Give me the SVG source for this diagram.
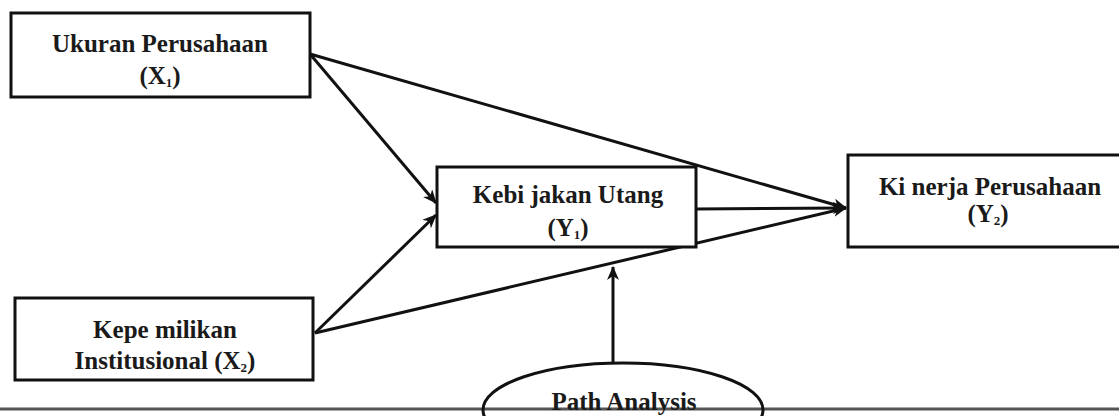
<svg xmlns="http://www.w3.org/2000/svg" width="1119" height="416" viewBox="0 0 1119 416">
<defs>
<style>
.box{fill:#fff;stroke:#111;stroke-width:3}
.t{font-family:"Liberation Serif","Times New Roman",serif;font-weight:bold;font-size:25px;fill:#1a1a1a;text-anchor:middle}
.sub{font-size:13px}
.c{stroke:#111;stroke-width:3;fill:none}
</style>
<marker id="ah" viewBox="0 0 14 12" refX="13" refY="6" markerWidth="14" markerHeight="12" markerUnits="userSpaceOnUse" orient="auto">
<path d="M0,0 L14,6 L0,12 L4,6 Z" fill="#111"/>
</marker>
</defs>
<rect width="1119" height="416" fill="#fff"/>
<line x1="0" y1="409" x2="1119" y2="409" stroke="#555" stroke-width="3"/>
<g id="connectors">
<line class="c" x1="310" y1="54" x2="436" y2="203" marker-end="url(#ah)"/>
<line class="c" x1="310" y1="54" x2="846" y2="208" marker-end="url(#ah)"/>
<line class="c" x1="315" y1="333" x2="436" y2="215" marker-end="url(#ah)"/>
<line class="c" x1="315" y1="333" x2="846" y2="208" marker-end="url(#ah)"/>
<line class="c" x1="696" y1="209" x2="846" y2="208" marker-end="url(#ah)"/>
<line class="c" x1="613" y1="363" x2="613" y2="267" marker-end="url(#ah)"/>
</g>
<g id="ukuran">
<rect class="box" x="11" y="13" width="299" height="84"/>
<text class="t" x="160" y="52">Ukuran Perusahaan</text>
<text class="t" x="160" y="84">(X<tspan class="sub" dy="3">1</tspan><tspan dy="-3">)</tspan></text>
</g>
<g id="kepemilikan">
<rect class="box" x="15" y="298" width="298" height="82"/>
<text class="t" x="165" y="338">Kepe milikan</text>
<text class="t" x="165" y="369">Institusional (X<tspan class="sub" dy="3">2</tspan><tspan dy="-3">)</tspan></text>
</g>
<g id="kebijakan">
<rect class="box" x="437" y="167" width="259" height="80"/>
<text class="t" x="568" y="203">Kebi jakan Utang</text>
<text class="t" x="568" y="236">(Y<tspan class="sub" dy="3">1</tspan><tspan dy="-3">)</tspan></text>
</g>
<g id="kinerja">
<rect class="box" x="848" y="155" width="290" height="92"/>
<text class="t" x="990" y="195">Ki nerja Perusahaan</text>
<text class="t" x="988" y="222">(Y<tspan class="sub" dy="3">2</tspan><tspan dy="-3">)</tspan></text>
</g>
<g id="path-analysis">
<ellipse cx="623" cy="410" rx="140" ry="47" fill="none" stroke="#111" stroke-width="3"/>
<text class="t" x="624" y="410">Path Analysis</text>
</g>
</svg>
